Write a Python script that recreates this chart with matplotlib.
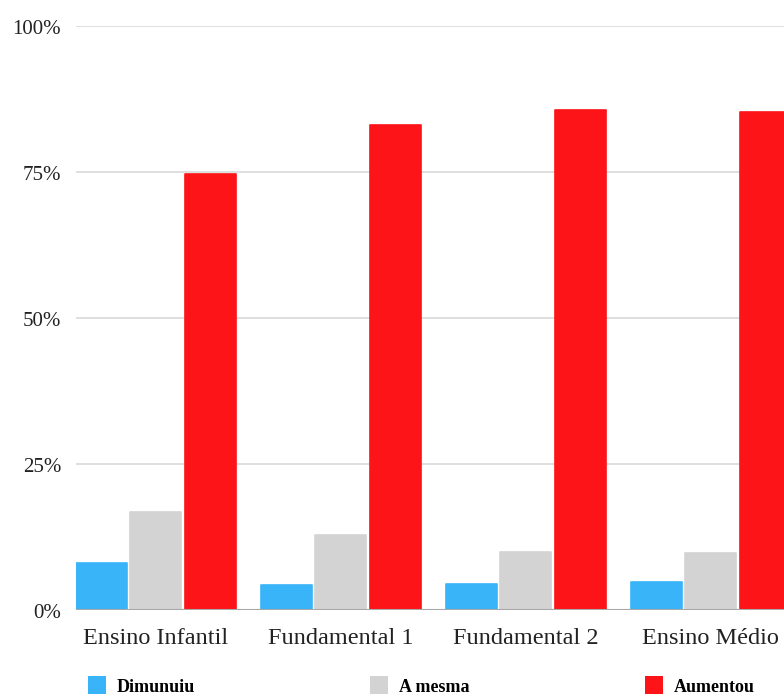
import matplotlib.pyplot as plt
import matplotlib.transforms as mtransforms
from matplotlib.patches import Patch
import numpy as np

plt.rcParams['font.family'] = ['Liberation Serif', 'DejaVu Serif']

niveis = ['Ensino Infantil', 'Fundamental 1', 'Fundamental 2', 'Ensino Médio']
series = ['Dimunuiu', 'A mesma', 'Aumentou']
dimunuiu = [8.0, 4.3, 4.5, 4.8]
a_mesma = [16.8, 12.8, 9.9, 9.8]
aumentou = [74.7, 83.0, 85.6, 85.3]
y_ticks = [0, 25, 50, 75, 100]

cores = ['#3AB4F8', '#D3D3D3', '#FD1418']

fig = plt.figure(figsize=(7.84, 6.95), dpi=100)
ax = fig.add_axes([76 / 784, 85 / 695, 708 / 784, 584 / 695])

x = np.arange(len(niveis))
largura = 0.275
passo = 0.295
for i, (vals, cor) in enumerate(zip([dimunuiu, a_mesma, aumentou], cores)):
    ax.bar(x + (i - 1) * passo, vals, largura, color=cor, edgecolor=cor,
           linewidth=1.2, joinstyle='round', zorder=2)

ax.set_xlim(-0.432, 3.395)
ax.set_ylim(0, 100)
ax.set_yticks(y_ticks)
ax.set_yticklabels([])
ax.set_xticks(x)
ax.set_xticklabels(niveis)

# rótulos do eixo y um pouco abaixo da linha de grade
trans = ax.get_yaxis_transform() + mtransforms.ScaledTranslation(
    -15 / 100, -3 / 100, fig.dpi_scale_trans)
for t in y_ticks:
    ax.text(0, t, f'{t}%', transform=trans, ha='right', va='center',
            fontsize=15, color='#222222')

ax.grid(axis='y', color='#DCDCDC', linewidth=1.3, zorder=0)
ax.axhline(0, color='#A8A8A8', linewidth=1.5, zorder=3)
for s in ax.spines.values():
    s.set_visible(False)
ax.tick_params(axis='y', length=0)
ax.tick_params(axis='x', length=0, pad=13, labelsize=17.5, labelcolor='#222222')

handles = [Patch(facecolor=c, edgecolor='none') for c in cores]
fig.legend(handles, series, loc='center left', ncol=3,
           bbox_to_anchor=(88 / 784, 9 / 695), frameon=False,
           borderpad=0, borderaxespad=0, handlelength=1.0, handleheight=1.15,
           handletextpad=0.6, columnspacing=9.7,
           prop={'weight': 'bold', 'size': 13})

fig.savefig('out.png', dpi=100, facecolor='white')
